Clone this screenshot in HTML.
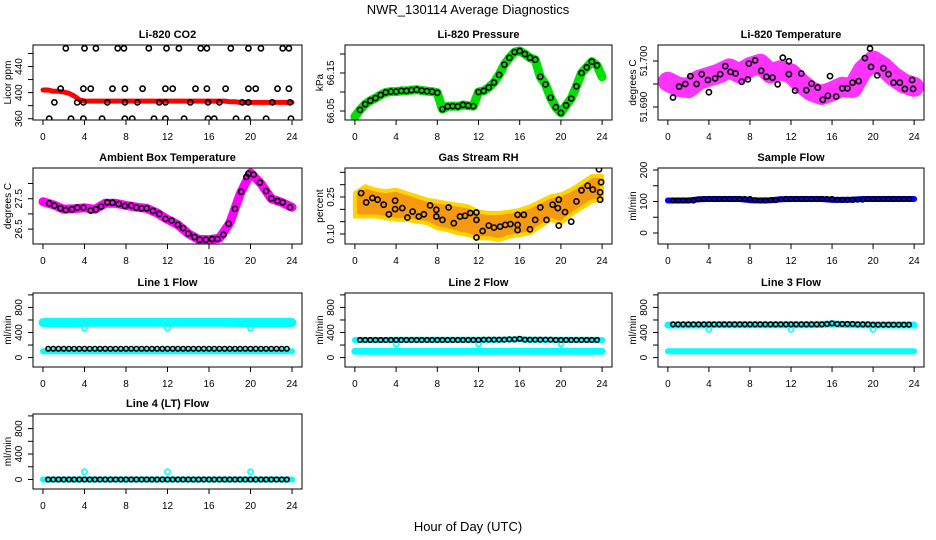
<!DOCTYPE html>
<html><head><meta charset="utf-8"><style>
body{margin:0;background:#fff}
svg{display:block;font-family:"Liberation Sans",Arial,sans-serif}
</style></head><body>
<svg id="chart" xmlns="http://www.w3.org/2000/svg" width="936" height="540" viewBox="0 0 936 540">
<rect width="936" height="540" fill="#fff"/>
<text x="468" y="14" font-size="13" text-anchor="middle">NWR_130114  Average Diagnostics</text>
<text x="468" y="531" font-size="13" text-anchor="middle">Hour of Day (UTC)</text>
</svg>
<script>
// ---- data ----
const xTicks = [0,4,8,12,16,20,24];
const co2BlackHours = [2.2,4,5.1,7.2,7.8,10.2,11.9,13.1,15.2,15.8,18.1,19.8,21,23.1,23.7,
 1.7,3.9,4.6,6.7,7.9,9.6,11.8,12.5,14.7,15.8,17.6,19.8,20.5,22.6,23.7,
 1.1,3.3,3.9,6.2,7.9,9.1,11.2,11.8,14.2,15.9,17,19.2,19.8,22.1,23.8,
 0.6,2.7,3.9,5.7,7.9,8.6,10.7,11.8,13.6,15.9,16.5,18.6,19.7,21.5,23.9];
const co2BlackValues = [468,468,468,468,468,468,468,468,468,468,468,468,468,468,468,
 406,406,406,406,406,406,406,406,406,406,406,406,406,406,406,
 385,385,385,385,385,385,385,385,385,385,385,385,385,385,385,
 360,360,360,360,360,360,360,360,360,360,360,360,360,360,360];
const halfHours = [0,0.5,1,1.5,2,2.5,3,3.5,4,4.5,5,5.5,6,6.5,7,7.5,8,8.5,9,9.5,10,10.5,11,11.5,12,12.5,13,13.5,14,14.5,15,15.5,16,16.5,17,17.5,18,18.5,19,19.5,20,20.5,21,21.5,22,22.5,23,23.5,24];
const co2Red = [404,404,402,402,401,399,395,389,387,387,387,387,387,387,387,387,387,387,387,387,387,387,387,387,387,387,387,387,387,387,387,387,387,387,387,387,386,386,385,385,385,385,385,385,385,385,385,385,385];
const pressure = [66.035,66.053,66.068,66.077,66.084,66.092,66.099,66.101,66.101,66.103,66.103,66.105,66.106,66.104,66.102,66.101,66.098,66.055,66.062,66.063,66.062,66.066,66.064,66.063,66.100,66.103,66.112,66.125,66.145,66.172,66.190,66.205,66.208,66.200,66.190,66.185,66.140,66.120,66.085,66.060,66.045,66.065,66.083,66.115,66.150,66.165,66.180,66.170,66.140];
const hourly = [0,1,2,3,4,5,6,7,8,9,10,11,12,13,14,15,16,17,18,19,20,21,22,23,24];
const tempMagenta = [51.6955,51.6944,51.6941,51.6959,51.6966,51.6973,51.6984,51.6973,51.6987,51.6994,51.6973,51.6980,51.6973,51.6951,51.6934,51.6926,51.6934,51.6944,51.6941,51.6980,51.7001,51.6987,51.6966,51.6951,51.6944];
const tempBlackHours = [0.5,1.1,1.7,2.2,2.8,3.3,3.9,4,4.6,5.1,5.6,6.1,6.6,7.2,7.8,7.9,8.5,9.1,9.6,10.2,10.7,11.2,11.8,11.8,12.4,13,13.5,14,14.6,15.1,15.6,15.8,16.4,17,17.5,18,18.6,19.2,19.7,19.8,20.4,21,21.5,22,22.6,23.1,23.8,23.9];
const tempBlack = [51.69207,51.69443,51.695,51.69671,51.695,51.69714,51.69586,51.69321,51.69621,51.69714,51.69886,51.69764,51.69729,51.6955,51.696,51.69943,51.70014,51.69786,51.69657,51.69636,51.69493,51.70071,51.69993,51.69714,51.69357,51.69729,51.69364,51.69507,51.69421,51.69157,51.69243,51.69671,51.69229,51.69407,51.69407,51.69529,51.69564,51.70064,51.70271,51.69871,51.69686,51.69843,51.69714,51.69529,51.69529,51.69393,51.69586,51.69393];
const ambMagenta = [27.4,27.3,27.15,27.17,27.2,27.15,27.35,27.35,27.28,27.22,27.18,27.03,26.82,26.64,26.35,26.16,26.15,26.2,26.7,27.65,28.35,28.0,27.5,27.38,27.22];
const ambBlackHours = [0.6,1.1,1.7,2.2,2.8,3.3,3.9,4.6,5.1,5.6,6.2,6.7,7.3,7.9,8.5,9,9.5,10,10.6,11.2,11.8,12.4,13,13.5,14,14.6,15.1,15.7,16.3,16.8,17.4,17.9,18.5,19.1,19.6,19.8,20.3,20.9,21.5,22,22.6,23.1,23.8];
const ambBlack = [27.348,27.272,27.185,27.13,27.152,27.207,27.207,27.109,27.152,27.239,27.38,27.37,27.326,27.261,27.272,27.207,27.185,27.185,27.098,27.0,26.837,26.783,26.641,26.533,26.348,26.239,26.152,26.152,26.174,26.174,26.315,26.674,27.163,27.728,28.217,28.326,28.293,28.033,27.75,27.511,27.424,27.38,27.217];
const rhHigh = [0.266,0.294,0.280,0.273,0.280,0.266,0.253,0.239,0.232,0.225,0.219,0.212,0.191,0.185,0.185,0.191,0.198,0.212,0.232,0.253,0.260,0.280,0.307,0.335,0.335];
const rhLow = [0.171,0.171,0.171,0.164,0.157,0.157,0.150,0.144,0.123,0.116,0.103,0.096,0.082,0.082,0.075,0.089,0.096,0.103,0.130,0.157,0.144,0.178,0.205,0.232,0.239];
const rhBlackHours = [0.6,1.1,1.7,2.2,2.8,3.3,3.9,3.9,4.6,5.1,5.6,6.2,6.7,7.3,7.9,7.9,8.5,9.1,9.6,10.2,10.7,11.2,11.8,11.8,11.8,12.4,13,13.5,14.1,14.6,15.1,15.8,15.8,15.8,16.4,17,17.5,18,18.6,19.2,19.7,19.8,19.8,20.4,21,21.5,22,22.6,23.1,23.7,23.8,23.9,23.8];
const rhBlack = [0.266,0.228,0.246,0.239,0.219,0.18,0.235,0.201,0.205,0.167,0.191,0.171,0.18,0.216,0.171,0.198,0.157,0.208,0.144,0.171,0.174,0.185,0.187,0.157,0.086,0.112,0.134,0.126,0.13,0.137,0.14,0.137,0.116,0.178,0.178,0.119,0.157,0.208,0.157,0.219,0.205,0.239,0.134,0.189,0.15,0.232,0.277,0.296,0.28,0.362,0.269,0.31,0.239];
const sampleBlue = [103,103,103,107,108,108,108,108,104,103,104,107,108,108,108,108,105,105,106,108,108,108,108,108,108];
const flowHours = [0.5,1,1.5,2,2.5,3,3.5,4,4.5,5,5.5,6,6.5,7,7.5,8,8.5,9,9.5,10,10.5,11,11.5,12,12.5,13,13.5,14,14.5,15,15.5,16,16.5,17,17.5,18,18.5,19,19.5,20,20.5,21,21.5,22,22.5,23,23.5];
const sampleBlack = [103,103,103,103,103,107,108,108,108,108,108,108,108,108,108,108,104,103,103,104,104,107,108,108,108,108,108,108,108,108,108,108,105,105,105,105,106,106,108,108,108,108,108,108,108,108,108];
const line1Black = [140,140,140,140,140,140,140,140,140,140,140,140,140,140,140,140,140,140,140,140,140,140,140,140,140,140,140,140,140,140,140,140,140,140,140,140,140,140,140,140,140,140,140,140,140,140,140];
const line2Black = [280,280,280,280,280,280,280,280,280,280,280,280,280,280,280,280,280,280,280,280,280,280,280,280,285,285,285,285,285,290,290,300,285,285,285,285,285,285,280,280,280,280,280,280,280,280,280];
const line3Black = [530,530,530,530,530,530,530,530,530,530,530,530,530,530,530,530,530,530,530,530,530,530,530,530,530,530,530,530,530,530,535,545,535,535,535,535,530,530,530,525,525,525,525,525,525,525,525];
const line4Black = [0,0,0,0,0,0,0,0,0,0,0,0,0,0,0,0,0,0,0,0,0,0,0,0,0,0,0,0,0,0,0,0,0,0,0,0,0,0,0,0,0,0,0,0,0,0,0];
const line1CyanHigh = [560,560,560,560,565,565,565,565,565,565,565,565,565,565,565,565,565,565,565,560,560,560,560,560,560];
const line1CyanLow = [100,100,100,100,100,100,100,100,100,100,100,100,100,100,100,100,100,100,100,100,100,100,100,100,100];
const line2CyanHigh = [280,280,280,280,285,285,285,285,285,285,285,285,285,285,285,290,290,285,285,285,285,285,285,285,280];
const line2CyanLow = [100,100,100,100,100,100,100,100,100,100,100,100,100,100,100,100,100,100,100,100,100,100,100,100,100];
const line3CyanHigh = [520,520,520,520,525,525,525,525,525,525,525,525,525,525,525,530,535,530,525,525,520,520,520,520,520];
const line3CyanLow = [100,100,100,100,100,100,100,100,100,100,100,100,100,100,100,100,100,100,100,100,100,100,100,100,100];
const line4Cyan = [0,0,0,0,0,0,0,0,0,0,0,0,0,0,0,0,0,0,0,0,0,0,0,0,0];
const outlierHours = [4,12,20];
const line1Outliers = [470,470,470];
const line2Outliers = [220,220,220];
const line3Outliers = [450,450,450];
const line4Outliers = [120,120,120];

// ---- drawing ----
const NS = "http://www.w3.org/2000/svg";
const svg = document.getElementById('chart');
const colX = [[33,302],[345,612],[658,924]];
const rowY = [[45,120],[168,244],[293,367],[414,489]];
function mk(tag, attrs, parent){
  const e = document.createElementNS(NS, tag);
  for (const k in attrs) e.setAttribute(k, attrs[k]);
  (parent||svg).appendChild(e);
  return e;
}
function panel(name, c, r, title, ylab, ylim, ticks, labels){
  const g = mk('g', {});
  
  
  const [x0,x1] = colX[c], [y0,y1] = rowY[r];
  const sx = h => x0 + (h + 0.96) / 25.92 * (x1 - x0);
  const sy = v => y1 - (v - ylim[0]) / (ylim[1] - ylim[0]) * (y1 - y0);
  const clip = mk('clipPath', {id: 'clip-' + name}, g);
  mk('rect', {x: x0, y: y0, width: x1 - x0, height: y1 - y0}, clip);
  const plot = mk('g', {'clip-path': 'url(#clip-' + name + ')'}, g);
  
  
  const box = mk('rect', {x: x0, y: y0, width: x1 - x0, height: y1 - y0, fill: 'none', stroke: '#000', 'stroke-width': 1}, g);
  
  
  const t = mk('text', {x: (x0 + x1) / 2, y: y0 - 7, 'font-size': 11, 'font-weight': 'bold', 'text-anchor': 'middle'}, g);
  t.textContent = title;
  
  
  xTicks.forEach(h => {
    const tk = mk('line', {x1: sx(h), x2: sx(h), y1: y1, y2: y1 + 5, stroke: '#000'}, g);
    
    
    const tl = mk('text', {x: sx(h), y: y1 + 20, 'font-size': 10, 'text-anchor': 'middle'}, g);
    tl.textContent = h;
    
    
  });
  ticks.forEach(v => {
    const tk = mk('line', {x1: x0 - 5, x2: x0, y1: sy(v), y2: sy(v), stroke: '#000'}, g);
    
    
  });
  labels.forEach(l => {
    const yy = sy(parseFloat(l));
    const tl = mk('text', {x: x0 - 11, y: yy, 'font-size': 10, 'text-anchor': 'middle', transform: 'rotate(-90 ' + (x0 - 11) + ' ' + yy + ')'}, g);
    tl.textContent = l;
    
    
  });
  const yc = (y0 + y1) / 2;
  const yt = mk('text', {x: x0 - 22, y: yc, 'font-size': 10, 'text-anchor': 'middle', transform: 'rotate(-90 ' + (x0 - 22) + ' ' + yc + ')'}, g);
  yt.textContent = ylab;
  
  
  return {sx, sy, plot};
}
function band(p, name, hours, vals, color, width){
  const pts = hours.map((h, i) => p.sx(h).toFixed(1) + ',' + p.sy(vals[i]).toFixed(1)).join(' ');
  const e = mk('polyline', {points: pts, fill: 'none', stroke: color, 'stroke-width': width, 'stroke-linecap': 'round', 'stroke-linejoin': 'round'}, p.plot);
  
  
}
function area(p, name, hours, hi, lo, color){
  const a = hours.map((h, i) => p.sx(h).toFixed(1) + ',' + p.sy(hi[i]).toFixed(1));
  const b = hours.map((h, i) => p.sx(h).toFixed(1) + ',' + p.sy(lo[i]).toFixed(1)).reverse();
  const e = mk('polygon', {points: a.concat(b).join(' '), fill: color, stroke: '#ffd400', 'stroke-width': 4, 'stroke-linejoin': 'round'}, p.plot);
  
  
}
function dots(p, name, hours, vals, color, r){
  hours.forEach((h, i) => {
    const e = mk('circle', {cx: p.sx(h).toFixed(1), cy: p.sy(vals[i]).toFixed(1), r: r || 2.6, fill: 'none', stroke: color, 'stroke-width': 1.6}, p.plot);
    
    
  });
}

let p;
p = panel('co2', 0, 0, 'Li-820 CO2', 'Licor ppm', [358,473], [360,380,400,420,440,460], ['360','400','440']);
band(p, 'co2-red-series', halfHours, co2Red, '#ff0000', 5);
dots(p, 'co2-point', co2BlackHours, co2BlackValues, '#000');

p = panel('pressure', 1, 0, 'Li-820 Pressure', 'kPa', [66.0263,66.2237], [66.05,66.10,66.15,66.20], ['66.05','66.15']);
band(p, 'pressure-green-series', halfHours, pressure, '#00e000', 9);
dots(p, 'pressure-point', halfHours.slice(1, 48), pressure.slice(1, 48), '#000');

p = panel('temperature', 2, 0, 'Li-820 Temperature', 'degrees C', [51.68717,51.70348], [51.690,51.695,51.700], ['51.690','51.700']);
band(p, 'temperature-magenta-series', hourly, tempMagenta, '#ff33ff', 20);
dots(p, 'temperature-point', tempBlackHours, tempBlack, '#000');

p = panel('ambient', 0, 1, 'Ambient Box Temperature', 'degrees C', [26.01,28.51], [26.5,27.0,27.5,28.0], ['26.5','27.5']);
band(p, 'ambient-magenta-series', hourly, ambMagenta, '#ff00ff', 9);
dots(p, 'ambient-point', ambBlackHours, ambBlack, '#000');

p = panel('rh', 1, 1, 'Gas Stream RH', 'percent', [0.0595,0.3676], [0.10,0.15,0.20,0.25,0.30,0.35], ['0.10','0.25']);
area(p, 'rh-orange-cloud', hourly, rhHigh, rhLow, '#f59a10');
dots(p, 'rh-point', rhBlackHours, rhBlack, '#000');

p = panel('sample', 2, 1, 'Sample Flow', 'ml/min', [-34.9,206.3], [0,50,100,150,200], ['0','100','200']);
band(p, 'sample-blue-series', hourly, sampleBlue, '#0000ff', 6);
dots(p, 'sample-point', flowHours, sampleBlack, '#000', 2.3);

const flowTicks = [0,200,400,600,800,1000], flowLabels = ['0','400','800'], flowLim = [-150,1030];
p = panel('line1', 0, 2, 'Line 1 Flow', 'ml/min', flowLim, flowTicks, flowLabels);
band(p, 'line1-cyan-high', hourly, line1CyanHigh, '#00ffff', 9);
band(p, 'line1-cyan-low', hourly, line1CyanLow, '#00ffff', 6);
dots(p, 'line1-cyan-outlier', outlierHours, line1Outliers, '#00ffff');
dots(p, 'line1-point', flowHours, line1Black, '#000', 2.3);

p = panel('line2', 1, 2, 'Line 2 Flow', 'ml/min', flowLim, flowTicks, flowLabels);
band(p, 'line2-cyan-high', hourly, line2CyanHigh, '#00ffff', 6);
band(p, 'line2-cyan-low', hourly, line2CyanLow, '#00ffff', 7);
dots(p, 'line2-cyan-outlier', outlierHours, line2Outliers, '#00ffff');
dots(p, 'line2-point', flowHours, line2Black, '#000', 2.3);

p = panel('line3', 2, 2, 'Line 3 Flow', 'ml/min', flowLim, flowTicks, flowLabels);
band(p, 'line3-cyan-high', hourly, line3CyanHigh, '#00ffff', 7);
band(p, 'line3-cyan-low', hourly, line3CyanLow, '#00ffff', 6);
dots(p, 'line3-cyan-outlier', outlierHours, line3Outliers, '#00ffff');
dots(p, 'line3-point', flowHours, line3Black, '#000', 2.3);

p = panel('line4', 0, 3, 'Line 4 (LT) Flow', 'ml/min', flowLim, flowTicks, flowLabels);
band(p, 'line4-cyan-series', hourly, line4Cyan, '#00ffff', 6);
dots(p, 'line4-cyan-outlier', outlierHours, line4Outliers, '#00ffff');
dots(p, 'line4-point', flowHours, line4Black, '#000', 2.3);
</script>
</body></html>
